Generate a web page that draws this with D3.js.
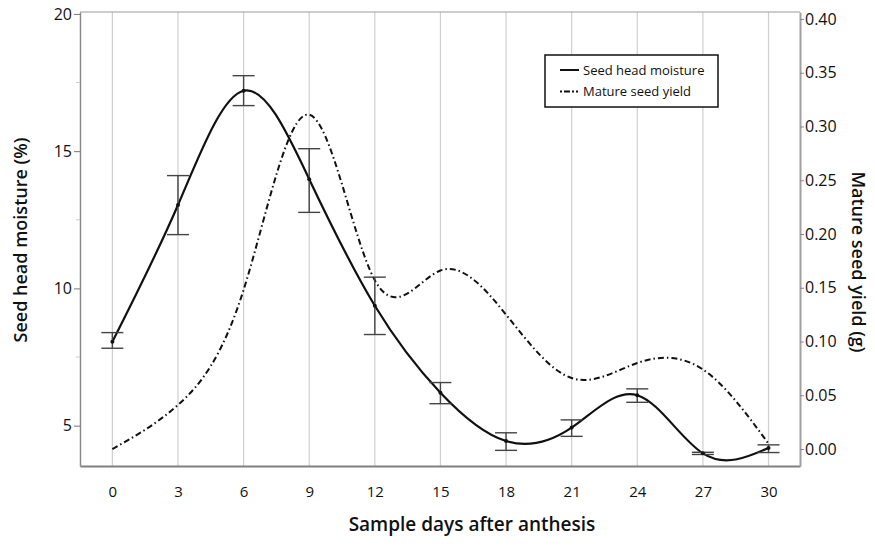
<!DOCTYPE html>
<html>
<head>
<meta charset="utf-8">
<script src="https://cdn.jsdelivr.net/npm/d3@7"></script>
<style>
  body { margin: 0; background: #fff; }
  text { font-family: "Open Sans", sans-serif; fill: #111; }
</style>
</head>
<body>
<div id="chart-area"></div>
<script>
// values
const days = [0, 3, 6, 9, 12, 15, 18, 21, 24, 27, 30]
const moisture = [8.06, 13.04, 17.2, 13.98, 9.37, 6.2, 4.44, 4.93, 6.11, 3.99, 4.19]
const moistureLow = [7.82, 11.96, 16.66, 12.77, 8.32, 5.8, 4.10, 4.61, 5.85, 3.95, 4.02]
const moistureHigh = [8.39, 14.11, 17.75, 15.09, 10.41, 6.57, 4.74, 5.21, 6.34, 4.03, 4.30]
const seedYield = [0.00, 0.041, 0.148, 0.311, 0.157, 0.166, 0.125, 0.066, 0.080, 0.074, 0.005]
const leftTicks = [5, 10, 15, 20]
const rightTicks = [0, 0.05, 0.10, 0.15, 0.20, 0.25, 0.30, 0.35, 0.40]
const legendLabels = ["Seed head moisture", "Mature seed yield"]

const W = 875, H = 546
const PLOT = { LEFT: 80, RIGHT: 800, TOP: 12, BOTTOM: 466 }

const svg = d3.select("#chart-area").append("svg")
  .attr("width", W)
  .attr("height", H)

const x = d3.scaleLinear().domain([-1.48, 31.44]).range([PLOT.LEFT, PLOT.RIGHT])
const yL = d3.scaleLinear().domain([3.53, 20.07]).range([PLOT.BOTTOM, PLOT.TOP])
const yR = d3.scaleLinear().domain([-0.0158, 0.4065]).range([PLOT.BOTTOM, PLOT.TOP])

// vertical grid
svg.append("g")
  .selectAll("line")
  .data(days)
  .enter().append("line")
  .attr("x1", d => x(d)).attr("x2", d => x(d))
  .attr("y1", PLOT.TOP).attr("y2", PLOT.BOTTOM)
  .attr("stroke", "#cfcfcf")
  .attr("stroke-width", 1.2)

// frame top
svg.append("line")
  .attr("x1", PLOT.LEFT).attr("x2", PLOT.RIGHT)
  .attr("y1", PLOT.TOP).attr("y2", PLOT.TOP)
  .attr("stroke", "#9a9a9a")

// X-AXIS
const xAxis = svg.append("g")
  .attr("transform", `translate(0,${PLOT.BOTTOM})`)
  .call(d3.axisBottom(x).tickValues(days).tickSize(0).tickPadding(20).tickFormat(d3.format("d")))
xAxis.select(".domain").attr("stroke", "#808080").attr("stroke-width", 2)
xAxis.selectAll("text").attr("font-size", 15)

// LEFT AXIS
const leftAxis = svg.append("g")
  .attr("transform", `translate(${PLOT.LEFT},0)`)
  .call(d3.axisLeft(yL).tickValues(leftTicks).tickSize(6).tickSizeOuter(0).tickPadding(2))
leftAxis.select(".domain").attr("stroke", "#8a8a8a").attr("stroke-width", 1.5)
leftAxis.selectAll(".tick line").attr("stroke", "#777")
leftAxis.selectAll("text").attr("font-size", 16)

// faint minor ticks on the left
svg.append("g")
  .selectAll("line")
  .data([7.5, 12.5, 17.5])
  .enter().append("line")
  .attr("x1", PLOT.LEFT - 4).attr("x2", PLOT.LEFT)
  .attr("y1", d => yL(d)).attr("y2", d => yL(d))
  .attr("stroke", "#ccc")

// RIGHT AXIS
const rightAxis = svg.append("g")
  .attr("transform", `translate(${PLOT.RIGHT},0)`)
  .call(d3.axisRight(yR).tickValues(rightTicks).tickSize(4).tickSizeOuter(0).tickPadding(1).tickFormat(d3.format(".2f")))
rightAxis.select(".domain").attr("stroke", "#a0a0a0").attr("stroke-width", 2)
rightAxis.selectAll(".tick line").attr("stroke", "#888")
rightAxis.selectAll("text").attr("font-size", 16)

// axis titles
svg.append("text")
  .attr("x", (PLOT.LEFT + PLOT.RIGHT) / 2 + 32)
  .attr("y", 531)
  .attr("text-anchor", "middle")
  .attr("font-size", 19)
  .attr("font-weight", 600)
  .text("Sample days after anthesis")

svg.append("text")
  .attr("transform", "translate(27,240) rotate(-90)")
  .attr("text-anchor", "middle")
  .attr("font-size", 18)
  .attr("font-weight", 600)
  .text("Seed head moisture (%)")

svg.append("text")
  .attr("transform", "translate(852,262) rotate(90)")
  .attr("text-anchor", "middle")
  .attr("font-size", 18)
  .attr("font-weight", 600)
  .text("Mature seed yield (g)")

// yield curve
const yieldLine = d3.line()
  .x((d, i) => x(days[i]))
  .y(d => yR(d))
  .curve(d3.curveNatural)

svg.append("path")
  .datum(seedYield)
  .attr("d", yieldLine)
  .attr("fill", "none")
  .attr("stroke", "#111")
  .attr("stroke-width", 2)
  .attr("stroke-dasharray", "6,3,1.5,3")

// moisture curve
const moistLine = d3.line()
  .x((d, i) => x(days[i]))
  .y(d => yL(d))
  .curve(d3.curveNatural)

svg.append("path")
  .datum(moisture)
  .attr("d", moistLine)
  .attr("fill", "none")
  .attr("stroke", "#111")
  .attr("stroke-width", 2.2)

// error bars
const bars = svg.append("g").selectAll("g")
  .data(days)
  .enter().append("g")
  .attr("stroke", "#444")
  .attr("stroke-width", 1.4)

bars.append("line")
  .attr("x1", d => x(d)).attr("x2", d => x(d))
  .attr("y1", (d, i) => yL(moistureLow[i]))
  .attr("y2", (d, i) => yL(moistureHigh[i]))
bars.append("line")
  .attr("x1", d => x(d) - 11).attr("x2", d => x(d) + 11)
  .attr("y1", (d, i) => yL(moistureLow[i]))
  .attr("y2", (d, i) => yL(moistureLow[i]))
bars.append("line")
  .attr("x1", d => x(d) - 11).attr("x2", d => x(d) + 11)
  .attr("y1", (d, i) => yL(moistureHigh[i]))
  .attr("y2", (d, i) => yL(moistureHigh[i]))

svg.append("g").selectAll("circle")
  .data(moisture)
  .enter().append("circle")
  .attr("cx", (d, i) => x(days[i]))
  .attr("cy", d => yL(d))
  .attr("r", 2)
  .attr("fill", "#111")

// LEGEND
const legend = svg.append("g").attr("transform", "translate(545,55)")
legend.append("rect")
  .attr("width", 173).attr("height", 52)
  .attr("fill", "#fff")
  .attr("stroke", "#111")
  .attr("stroke-width", 1.5)

legendLabels.forEach((label, i) => {
  legend.append("line")
    .attr("x1", 15).attr("x2", 34)
    .attr("y1", 15 + i * 21.5).attr("y2", 15 + i * 21.5)
    .attr("stroke", "#111")
    .attr("stroke-width", 2)
    .attr("stroke-dasharray", i === 0 ? null : "2,2,6,2,2")
  legend.append("text")
    .attr("x", 38)
    .attr("y", 15 + i * 21.5 + 4.5)
    .attr("font-size", 13)
    .text(label)
})
</script>
</body>
</html>
